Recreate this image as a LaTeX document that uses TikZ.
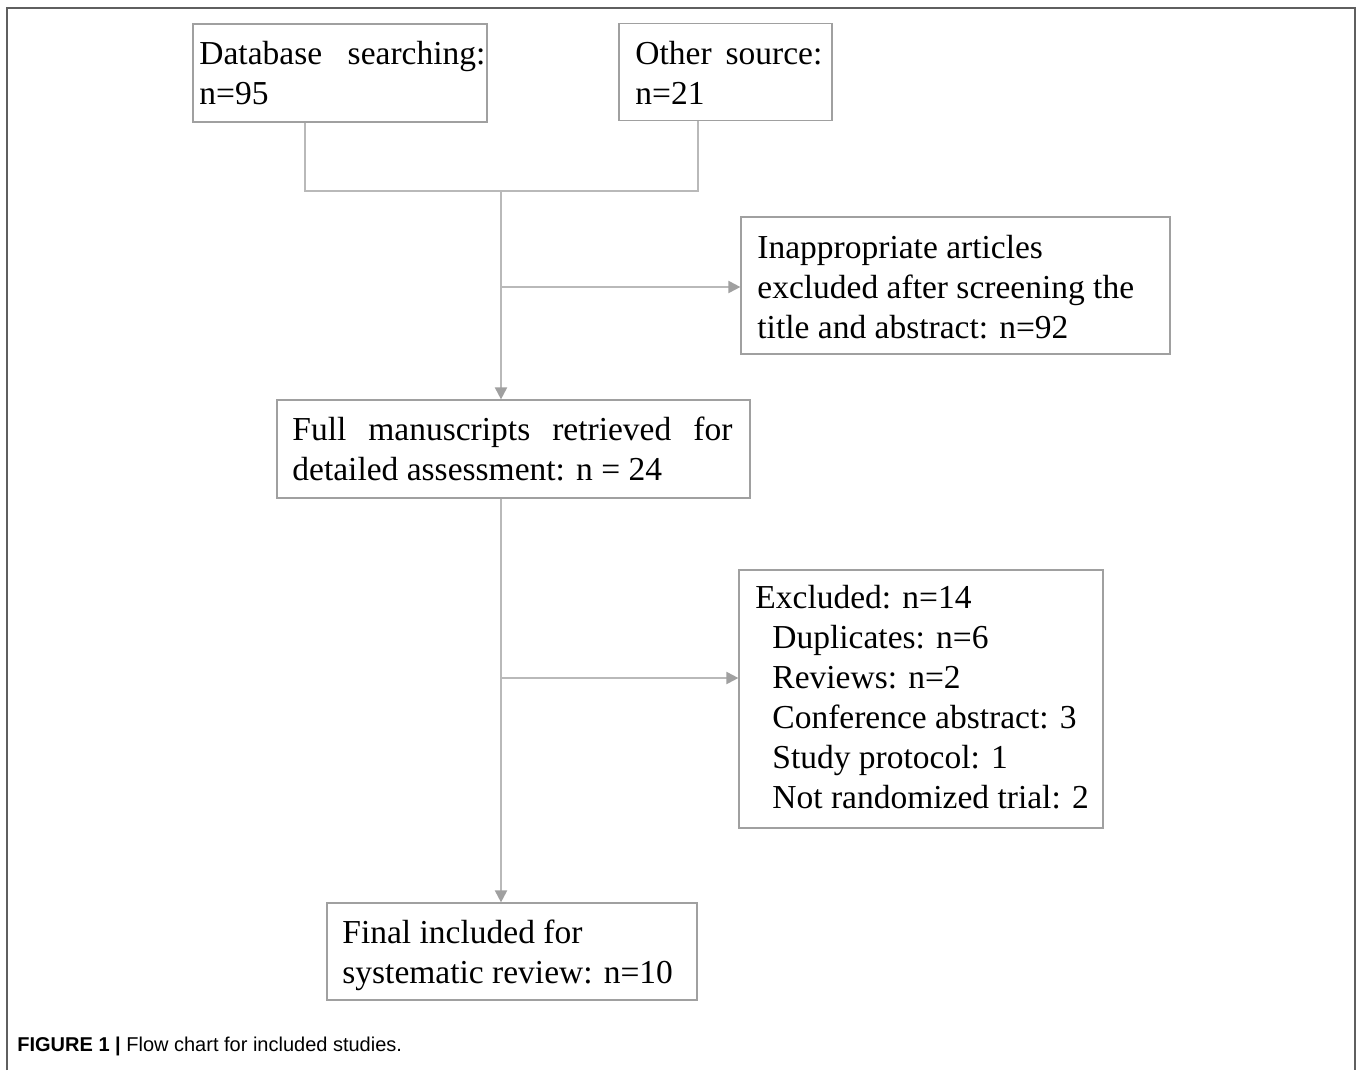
\documentclass[tikz,border=0pt]{standalone}
\usepackage{fontspec}
\setmainfont{Liberation Serif}
\newfontfamily\capfont{Liberation Sans}
\usetikzlibrary{arrows.meta}
\definecolor{linegray}{RGB}{185,185,185}
\definecolor{boxgray}{RGB}{160,160,160}
\definecolor{arrowgray}{RGB}{160,160,160}
\definecolor{framegray}{RGB}{95,95,95}
\begin{document}
\begin{tikzpicture}[x=0.5pt,y=-0.5pt,
  stagebox/.style={draw=boxgray, line width=0.6pt, inner sep=0pt, fill=white},
  lbl/.style={anchor=base west, inner sep=0pt, font=\fontsize{16.75pt}{20pt}\selectfont},
  conn/.style={draw=linegray, line width=1pt},
  arr/.style={conn, -{Triangle[length=6pt,width=6pt,color=arrowgray]}}]
\useasboundingbox (0,0) rectangle (1358,1070);
% outer frame
\draw[framegray, line width=1pt] (7,1070) -- (7,8) -- (1355,8) -- (1355,1070);

% boxes
\node[stagebox, minimum width=147pt, minimum height=49pt] (db) at (340,73) {};
\node[stagebox, minimum width=106.5pt, minimum height=48.5pt] (other) at (725.5,72) {};
\node[stagebox, minimum width=214.5pt, minimum height=68.5pt] (inapp) at (955.5,285.5) {};
\node[stagebox, minimum width=236.5pt, minimum height=49pt] (full) at (513.5,449) {};
\node[stagebox, minimum width=182pt, minimum height=129pt] (excl) at (921,699) {};
\node[stagebox, minimum width=185pt, minimum height=48.5pt] (final) at (512,951.5) {};

% texts
\node[lbl] (dbt) at (199,65) {\vtop{\hbox to 143pt{Database\hfill searching:}\hbox{n=95}}};
\node[lbl] (othert) at (635,65) {\vtop{\hbox to 93.5pt{Other\hfill source:}\hbox{n=21}}};
\node[lbl] (inappt) at (757,258) {\vtop{\hbox{Inappropriate articles}\hbox{excluded after screening the}\hbox{title and abstract: n=92}}};
\node[lbl] (fullt) at (292,440) {\vtop{\hbox to 220pt{Full\hfill manuscripts\hfill retrieved\hfill for}\hbox{detailed assessment: n = 24}}};
\node[lbl] (exclt) at (755,608) {\vtop{\hbox{Excluded: n=14}\hbox{\hspace{8.5pt}Duplicates: n=6}\hbox{\hspace{8.5pt}Reviews: n=2}\hbox{\hspace{8.5pt}Conference abstract: 3}\hbox{\hspace{8.5pt}Study protocol: 1}\hbox{\hspace{8.5pt}Not randomized trial: 2}}};
\node[lbl] (finalt) at (342,943) {\vtop{\hbox{Final included for}\hbox{systematic review: n=10}}};

% junctions
\coordinate (j1) at (305,191);
\coordinate (j2) at (698,191);
\coordinate (jm) at (501,191);
\coordinate (b1) at (501,287);
\coordinate (b2) at (501,678);

% connectors
\draw[conn] (db.south -| j1) -- (j1) -- (j2) -- (other.south -| j2);
\draw[arr] (jm) -- (full.north -| jm);
\draw[arr] (b1) -- (inapp.west |- b1);
\draw[arr] (full.south -| jm) -- (final.north -| jm);
\draw[arr] (b2) -- (excl.west |- b2);

% caption
\node[anchor=base west, inner sep=0pt, font=\capfont\fontsize{10pt}{12pt}\selectfont] (cap) at (17,1051) {\textbf{FIGURE 1 |} Flow chart for included studies.};
\end{tikzpicture}
\end{document}
